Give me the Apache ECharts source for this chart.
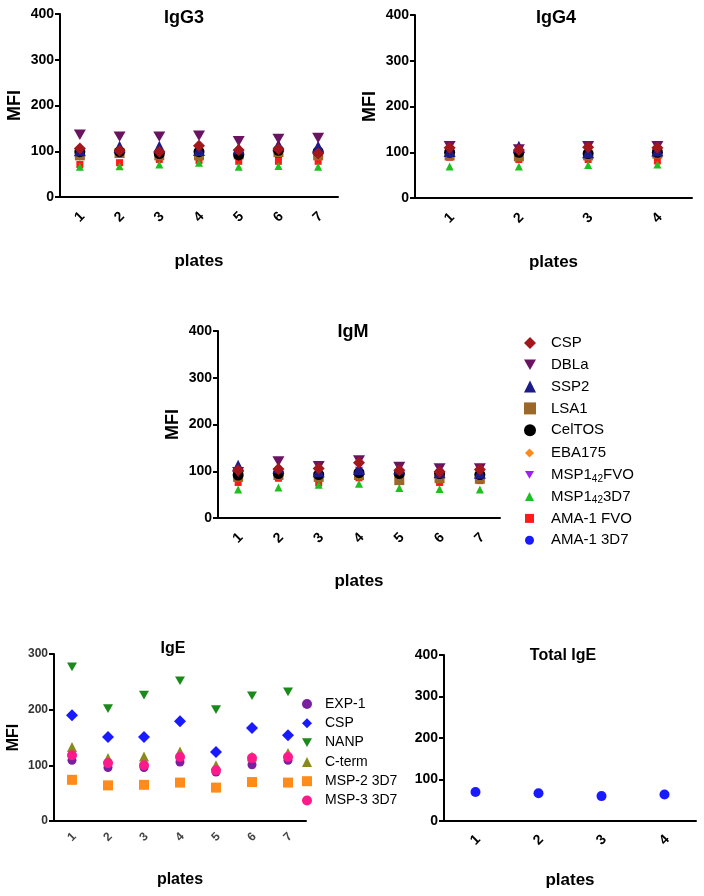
<!DOCTYPE html>
<html>
<head>
<meta charset="utf-8">
<script src="https://cdn.jsdelivr.net/npm/echarts@6/dist/echarts.min.js"></script>
<style>html,body{margin:0;padding:0;background:#fff}#c{width:704px;height:896px}</style>
</head>
<body>
<div id="c"></div>
<script>
// ---------- categories ----------
const plates7 = ['1','2','3','4','5','6','7'];
const plates4 = ['1','2','3','4'];
const antigenNames = ['CSP','DBLa','SSP2','LSA1','CelTOS','EBA175','MSP1{sub|42}FVO','MSP1{sub|42}3D7','AMA-1 FVO','AMA-1 3D7'];
const igeNames = ['EXP-1','CSP','NANP','C-term','MSP-2 3D7','MSP-3 3D7'];

// ---------- IgG3 (7 plates) ----------
const g3_CSP    = [106,101,99,112,103,105,95];
const g3_DBLa   = [136,132,132,134,122,127,129];
const g3_SSP2   = [102,110,110,103,106,113,110];
const g3_LSA1   = [91,96,91,91,93,98,91];
const g3_CelTOS = [99,99,95,99,92,102,99];
const g3_EBA175 = [98,98,96,102,98,103,96];
const g3_FVO42  = [95,96,94,97,95,98,95];
const g3_3D742  = [66,67,71,75,66,68,66];
const g3_AMAF   = [71,75,82,80,78,78,78];
const g3_AMA3   = [88,93,88,88,88,85,87];

// ---------- IgG4 (4 plates) ----------
const g4_CSP    = [110,105,111,110];
const g4_DBLa   = [113,106,113,113];
const g4_SSP2   = [103,112,100,104];
const g4_LSA1   = [93,91,93,97];
const g4_CelTOS = [100,100,97,100];
const g4_EBA175 = [100,100,100,102];
const g4_FVO42  = [98,99,98,100];
const g4_3D742  = [69,69,72,73];
const g4_AMAF   = [89,84,84,81];
const g4_AMA3   = [97,97,96,91];

// ---------- IgM (7 plates) ----------
const m_CSP    = [102,105,106,118,102,99,104];
const m_DBLa   = [98,121,111,123,109,106,106];
const m_SSP2   = [112,108,100,105,106,98,97];
const m_LSA1   = [88,92,88,92,81,85,84];
const m_CelTOS = [92,95,93,97,95,95,93];
const m_EBA175 = [95,98,96,100,96,94,96];
const m_FVO42  = [96,99,97,102,97,96,97];
const m_3D742  = [61,65,71,73,64,62,61];
const m_AMAF   = [76,85,75,86,80,76,80];
const m_AMA3   = [98,100,97,102,99,96,98];

// ---------- IgE (7 plates) ----------
const e_EXP1  = [109,96,96,106,88,101,109];
const e_CSP   = [190,151,151,179,124,167,154];
const e_NANP  = [277,202,226,252,200,225,232];
const e_Cterm = [133,113,116,125,100,116,122];
const e_MSP2  = [74,64,65,69,60,70,69];
const e_MSP3  = [118,104,100,115,91,113,115];

// ---------- Total IgE (4 plates) ----------
const totalIgE = [70,67,60,64];

// ---------- styling ----------
const FONT = 'Liberation Sans, Arial, sans-serif';
const DOWN = 'path://M0,0 L20,0 L10,17.32 Z';
const antStyle = [
  {c:'#a3161c', s:'diamond',  z:11},
  {c:'#6a1461', s:DOWN,       z:11},
  {c:'#1b1b8a', s:'triangle', z:11},
  {c:'#9a6828', s:'rect',     z:9},
  {c:'#000000', s:'circle',   z:10},
  {c:'#ff8a1c', s:'diamond',  z:8},
  {c:'#a020f0', s:DOWN,       z:8},
  {c:'#1fbf1f', s:'triangle', z:8},
  {c:'#ff1a1a', s:'rect',     z:7},
  {c:'#1a1aff', s:'circle',   z:7}
];
const bigSizes = [12,12,12,10,11,8,8,8,7,7];
const igeStyle = [
  {c:'#7b1fa2', s:'circle',   sz:9},
  {c:'#1a1aff', s:'diamond',  sz:12},
  {c:'#1a8a1a', s:DOWN,       sz:10},
  {c:'#8a8a1a', s:'triangle', sz:10},
  {c:'#ff8c1a', s:'rect',     sz:10},
  {c:'#ff1a8c', s:'circle',   sz:10}
];

const g3 = [g3_CSP,g3_DBLa,g3_SSP2,g3_LSA1,g3_CelTOS,g3_EBA175,g3_FVO42,g3_3D742,g3_AMAF,g3_AMA3];
const g4 = [g4_CSP,g4_DBLa,g4_SSP2,g4_LSA1,g4_CelTOS,g4_EBA175,g4_FVO42,g4_3D742,g4_AMAF,g4_AMA3];
const gm = [m_CSP,m_DBLa,m_SSP2,m_LSA1,m_CelTOS,m_EBA175,m_FVO42,m_3D742,m_AMAF,m_AMA3];
const ge = [e_EXP1,e_CSP,e_NANP,e_Cterm,e_MSP2,e_MSP3];

const grids = [
  {left:60,  top:14,  width:278, height:183},
  {left:415, top:15,  width:277, height:183},
  {left:218, top:331, width:282, height:187},
  {left:54,  top:654, width:252, height:167},
  {left:444, top:655, width:252, height:166}
];

function xAx(i, data, small, margin, nameGap) {
  return {
    type:'category', gridIndex:i, data:data, boundaryGap:true,
    axisLine:{lineStyle:{color:'#000', width:2}},
    axisTick:{alignWithLabel:true, length:5, lineStyle:{color:'#000', width:2}},
    axisLabel:{rotate:45, align:'center', verticalAlign:'middle', margin:margin,
      fontFamily:FONT, fontWeight:'bold', fontSize:small?12:14, color:small?'#444':'#000'},
    splitLine:{show:false},
    name:'plates', nameLocation:'middle', nameGap:nameGap,
    nameTextStyle:{fontFamily:FONT, fontWeight:'bold', fontSize:small?16:17, color:'#000'}
  };
}
function yAx(i, max, small, showName, nameGap) {
  return {
    type:'value', gridIndex:i, min:0, max:max, interval:100,
    axisLine:{show:true, lineStyle:{color:'#000', width:2}},
    axisTick:{show:true, length:5, lineStyle:{color:'#000', width:2}},
    axisLabel:{fontFamily:FONT, fontWeight:'bold', fontSize:small?12:14, color:small?'#333':'#000', margin:6},
    splitLine:{show:false},
    name:showName?'MFI':'', nameLocation:'middle', nameGap:nameGap, nameRotate:90,
    nameTextStyle:{fontFamily:FONT, fontWeight:'bold', fontSize:small?16:18, color:'#000'}
  };
}

const series = [];
function addAntigen(set, gi) {
  for (let k = set.length - 1; k >= 0; k--) {
    const st = antStyle[k];
    series.push({
      type:'scatter', name:antigenNames[k], xAxisIndex:gi, yAxisIndex:gi,
      data:set[k], symbol:st.s, symbolSize:bigSizes[k], symbolKeepAspect:true,
      itemStyle:{color:st.c, opacity:1}, z:st.z
    });
  }
}
addAntigen(g3, 0);
addAntigen(g4, 1);
addAntigen(gm, 2);
ge.forEach((d, k) => {
  const st = igeStyle[k];
  series.push({
    type:'scatter', name:'IgE ' + igeNames[k], xAxisIndex:3, yAxisIndex:3,
    data:d, symbol:st.s, symbolSize:st.sz, symbolKeepAspect:true,
    itemStyle:{color:st.c, opacity:1}
  });
});
series.push({
  type:'scatter', name:'Total IgE', xAxisIndex:4, yAxisIndex:4,
  data:totalIgE, symbol:'circle', symbolSize:10, itemStyle:{color:'#1a1aff', opacity:1}
});

const rich = {
  sub:{fontFamily:FONT, fontSize:10, lineHeight:10, verticalAlign:'bottom', color:'#000'}
};

const titleStyle = (sz) => ({fontFamily:FONT, fontWeight:'bold', fontSize:sz, color:'#000'});

const option = {
  animation:false,
  backgroundColor:'#fff',
  textStyle:{fontFamily:FONT},
  title:[
    {text:'IgG3', left:184, top:9, textAlign:'center', padding:0, textStyle:titleStyle(18)},
    {text:'IgG4', left:556, top:9, textAlign:'center', padding:0, textStyle:titleStyle(18)},
    {text:'IgM', left:353, top:323, textAlign:'center', padding:0, textStyle:titleStyle(18)},
    {text:'IgE', left:173, top:641, textAlign:'center', padding:0, textStyle:titleStyle(16)},
    {text:'Total IgE', left:563, top:648, textAlign:'center', padding:0, textStyle:titleStyle(16)}
  ],
  legend:[
    {
      data:antigenNames.slice(0,5), orient:'vertical', left:524, top:334, padding:0,
      itemWidth:12, itemHeight:12, itemGap:3.8, selectedMode:false,
      textStyle:{fontFamily:FONT, fontSize:15, lineHeight:18, color:'#000', padding:[0,0,0,10], rich:rich}
    },
    {
      data:antigenNames.slice(5), orient:'vertical', left:525, top:444, padding:0,
      itemWidth:9, itemHeight:9, itemGap:3.8, selectedMode:false,
      textStyle:{fontFamily:FONT, fontSize:15, lineHeight:18, color:'#000', padding:[0,0,0,12], rich:rich}
    },
    {
      data:igeNames.map(n => 'IgE ' + n), orient:'vertical', left:302, top:696, padding:0,
      itemWidth:10, itemHeight:10, itemGap:3.3, selectedMode:false,
      formatter:n => n.replace(/^IgE /, ''),
      textStyle:{fontFamily:FONT, fontSize:14, lineHeight:16, color:'#000', padding:[0,0,0,8]}
    }
  ],
  grid:grids,
  xAxis:[
    xAx(0,plates7,false,20,56),
    xAx(1,plates4,false,20,56),
    xAx(2,plates7,false,20,55),
    xAx(3,plates7,true,16,51),
    xAx(4,plates4,false,19,51)
  ],
  yAxis:[
    yAx(0,400,false,true,36),
    yAx(1,400,false,true,36),
    yAx(2,400,false,true,36),
    yAx(3,300,true,true,32),
    yAx(4,400,false,false,36)
  ],
  series:series
};

const chart = echarts.init(document.getElementById('c'), null, {renderer:'canvas'});
chart.setOption(option);
</script>
</body>
</html>
